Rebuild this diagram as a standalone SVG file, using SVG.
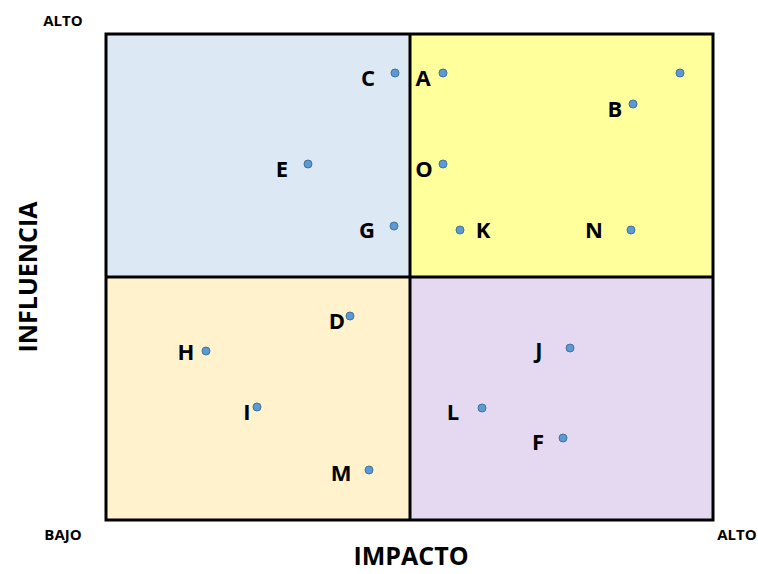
<svg xmlns="http://www.w3.org/2000/svg" width="758" height="574" viewBox="0 0 758 574">
<style>
text{font-family:"Open Sans","Liberation Sans",sans-serif;font-weight:bold;fill:#000}
.lbl{font-size:22px;text-anchor:middle;dominant-baseline:central}
.ax{font-size:15px;text-anchor:middle}
.title{font-size:25px;text-anchor:middle}
.dot{fill:#5B9BD5;stroke:#41719C;stroke-width:1}
.grid{fill:none;stroke:#000;stroke-width:3}
</style>
<rect width="758" height="574" fill="#fff"/>
<g id="quadrants">
<rect x="106" y="34" width="304" height="243" fill="#DCE9F5"/>
<rect x="410" y="34" width="303" height="243" fill="#FFFF9B"/>
<rect x="106" y="277" width="304" height="243" fill="#FFF2CC"/>
<rect x="410" y="277" width="303" height="243" fill="#E5D9F1"/>
<rect class="grid" x="106" y="34" width="607" height="486"/>
<line class="grid" x1="410" y1="34" x2="410" y2="520"/>
<line class="grid" x1="106" y1="277" x2="713" y2="277"/>
</g>
<g id="axes">
<text class="ax" x="63" y="26">ALTO</text>
<text class="ax" x="63" y="540">BAJO</text>
<text class="ax" x="737" y="540">ALTO</text>
<text class="title" x="411" y="565">IMPACTO</text>
<text class="title" transform="translate(37,277) rotate(-90)" x="0" y="0">INFLUENCIA</text>
</g>
<g id="C"><circle class="dot" cx="395" cy="73" r="4"/><text class="lbl" x="368" y="77">C</text></g>
<g id="A"><circle class="dot" cx="443" cy="73" r="4"/><text class="lbl" x="423" y="77">A</text></g>
<g id="P"><circle class="dot" cx="680" cy="73" r="4"/></g>
<g id="B"><circle class="dot" cx="633" cy="104" r="4"/><text class="lbl" x="615" y="108">B</text></g>
<g id="E"><circle class="dot" cx="308" cy="164" r="4"/><text class="lbl" x="282" y="168">E</text></g>
<g id="O"><circle class="dot" cx="443" cy="164" r="4"/><text class="lbl" x="424" y="168">O</text></g>
<g id="G"><circle class="dot" cx="394" cy="226" r="4"/><text class="lbl" x="367" y="229">G</text></g>
<g id="K"><circle class="dot" cx="460" cy="230" r="4"/><text class="lbl" x="483" y="229">K</text></g>
<g id="N"><circle class="dot" cx="631" cy="230" r="4"/><text class="lbl" x="594" y="229">N</text></g>
<g id="D"><circle class="dot" cx="350" cy="316" r="4"/><text class="lbl" x="337" y="320">D</text></g>
<g id="H"><circle class="dot" cx="206" cy="351" r="4"/><text class="lbl" x="186" y="351">H</text></g>
<g id="J"><circle class="dot" cx="570" cy="348" r="4"/><text class="lbl" x="539" y="349">J</text></g>
<g id="I"><circle class="dot" cx="257" cy="407" r="4"/><text class="lbl" x="247" y="411">I</text></g>
<g id="L"><circle class="dot" cx="482" cy="408" r="4"/><text class="lbl" x="453" y="411">L</text></g>
<g id="F"><circle class="dot" cx="563" cy="438" r="4"/><text class="lbl" x="538" y="441">F</text></g>
<g id="M"><circle class="dot" cx="369" cy="470" r="4"/><text class="lbl" x="341" y="472">M</text></g>
<g id="connectors"/>
</svg>
